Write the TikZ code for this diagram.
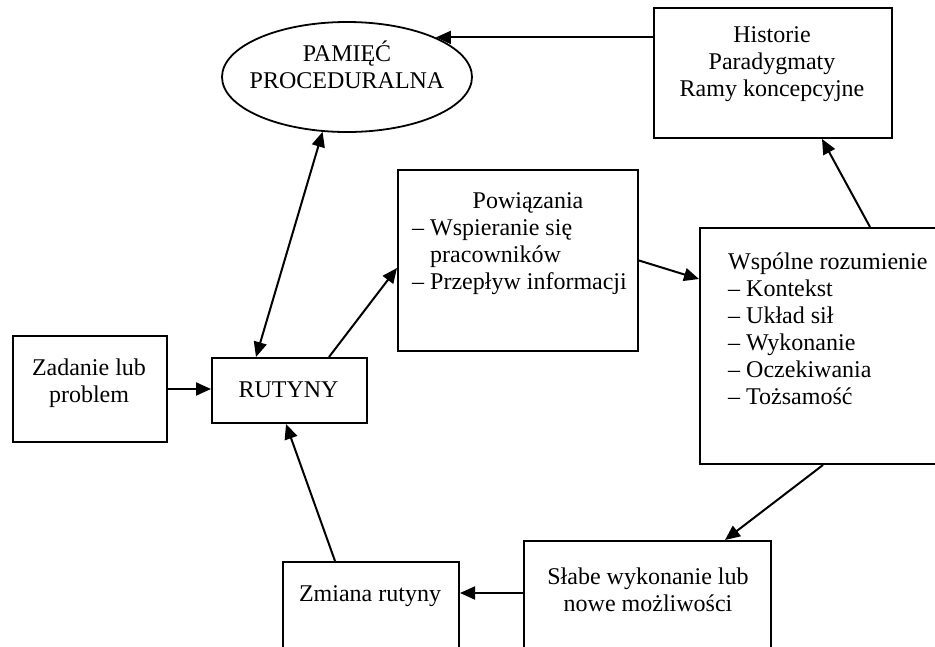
\documentclass[tikz,border=0pt]{standalone}
\usepackage{fontspec}
\setmainfont{Liberation Serif}
\usetikzlibrary{arrows.meta,shapes.geometric,calc}
\newcommand\dfont{\fontsize{24}{27}\selectfont}
\begin{document}
\begin{tikzpicture}[x=1pt,y=-1pt,
  box/.style={draw, line width=2pt, inner sep=0pt, anchor=north west},
  arr/.style={line width=2pt, -{Triangle[length=15pt,width=13pt]}},
  darr/.style={line width=2pt, {Triangle[length=15pt,width=13pt]}-{Triangle[length=15pt,width=13pt]}},
  ln/.style={anchor=base, inner sep=0pt, font=\dfont},
  lnw/.style={anchor=base west, inner sep=0pt, font=\dfont}]
\useasboundingbox (0,0) rectangle (935,646);
\clip (0,0) rectangle (935,646);

% boxes
\node[draw, ellipse, line width=1.8pt, minimum width=250pt, minimum height=110pt, inner sep=0pt] (mem) at (347,77) {};
\node[box, minimum width=238pt, minimum height=130pt] (hist) at (653,7) {};
\node[box, minimum width=240pt, minimum height=181pt] (pow) at (397,169) {};
\node[box, minimum width=250pt, minimum height=236pt] (wsp) at (699,227) {};
\node[box, minimum width=154pt, minimum height=106pt] (zad) at (12,335) {};
\node[box, minimum width=155pt, minimum height=65pt] (rut) at (211,357) {};
\node[box, minimum width=176pt, minimum height=110pt] (zmi) at (282,561) {};
\node[box, minimum width=247pt, minimum height=130pt] (sla) at (523,540) {};

% texts
\node[ln] at (347,61) {PAMIĘĆ};
\node[ln] at (347,88) {PROCEDURALNA};
\node[ln] at (772,42) {Historie};
\node[ln] at (772,69) {Paradygmaty};
\node[ln] at (772,96) {Ramy koncepcyjne};
\node[ln] at (528,208) {Powiązania};
\node[lnw] at (412,235) {– Wspieranie się};
\node[lnw] at (412,262) {\phantom{– }pracowników};
\node[lnw] at (412,289) {– Przepływ informacji};
\node[lnw] at (728,269) {Wspólne rozumienie};
\node[lnw] at (728,296) {– Kontekst};
\node[lnw] at (728,323) {– Układ sił};
\node[lnw] at (728,350) {– Wykonanie};
\node[lnw] at (728,377) {– Oczekiwania};
\node[lnw] at (728,404) {– Tożsamość};
\node[ln] at (89,375) {Zadanie lub};
\node[ln] at (89,402) {problem};
\node[ln] at (288.5,397) {RUTYNY};
\node[ln] at (370,601) {Zmiana rutyny};
\node[ln] at (648,584) {Słabe wykonanie lub};
\node[ln] at (648,611) {nowe możliwości};

% connectors
\draw[arr] (hist.west |- mem.24) -- (mem.24);
\draw[arr] (zad.east) -- (rut.west |- zad.east);
\draw[darr] ([xshift=-33.5pt]rut.north) -- (mem.246);
\draw[arr] ([xshift=-39pt]rut.north east) -- ([yshift=-7.5pt]pow.west);
\draw[arr] (pow.east) -- ([yshift=67pt]wsp.west);
\draw[arr] ([xshift=171pt]wsp.north west) -- ([xshift=49pt]hist.south);
\draw[arr] ([xshift=124pt]wsp.south west) -- ([xshift=202pt]sla.north west);
\draw[arr] ([yshift=-53pt]sla.north west) coordinate (s1) -- (zmi.east |- s1);
\draw[arr] ([xshift=53pt]zmi.north west) -- ([xshift=-3.5pt]rut.south);
\end{tikzpicture}
\end{document}
